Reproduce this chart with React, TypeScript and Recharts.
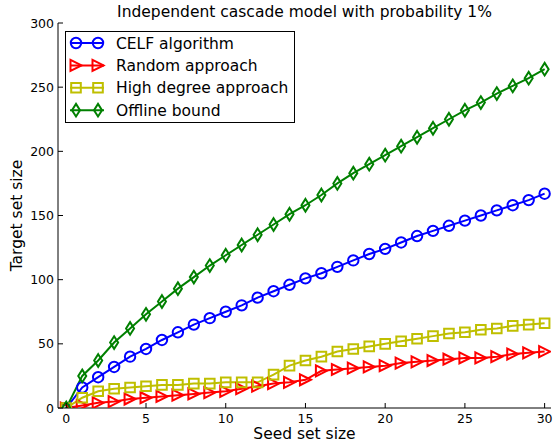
import React from "react";
import { LineChart, Line, XAxis, YAxis, Legend } from "recharts";

const seedSizes = [0, 1, 2, 3, 4, 5, 6, 7, 8, 9, 10, 11, 12, 13, 14, 15, 16, 17, 18, 19, 20, 21, 22, 23, 24, 25, 26, 27, 28, 29, 30];
const celf = [0, 16, 24, 32, 40, 46, 53, 59, 65, 70, 75, 80, 86, 91, 96, 101, 105, 110, 115, 120, 124, 129, 134, 138, 142, 146, 150, 154, 158, 162, 167];
const randomApproach = [0, 2, 4, 5, 7, 8, 9, 10, 11, 12, 13, 15, 17, 19, 20, 22, 29, 30, 31, 32, 33, 35, 36, 37, 38, 39, 39, 40, 42, 43, 44];
const highDegree = [0, 8, 13, 15, 16, 17, 18, 18, 19, 19, 20, 20, 20, 26, 33, 37, 40, 44, 46, 48, 50, 52, 54, 56, 58, 59, 61, 62, 64, 65, 66];
const offline = [0, 25, 37, 51, 62, 73, 83, 93, 102, 111, 119, 127, 135, 143, 151, 158, 166, 175, 183, 190, 197, 204, 211, 218, 225, 232, 238, 245, 251, 257, 264];
const xTicks = [0, 5, 10, 15, 20, 25, 30];
const yTicks = [0, 50, 100, 150, 200, 250, 300];

const series = [
  { key: "celf", name: "CELF algorithm", color: "#0000ff", shape: "circle" },
  { key: "random", name: "Random approach", color: "#ff0000", shape: "triangle" },
  { key: "high", name: "High degree approach", color: "#bfbf00", shape: "square" },
  { key: "offline", name: "Offline bound", color: "#008000", shape: "diamond" },
];

const data = seedSizes.map((x, i) => ({
  x,
  celf: celf[i],
  random: randomApproach[i],
  high: highDegree[i],
  offline: offline[i],
}));

const FONT = "DejaVu Sans, sans-serif";

function markerPath(shape: string, cx: number, cy: number) {
  switch (shape) {
    case "triangle":
      return `M${cx + 5.5},${cy} L${cx - 5.5},${cy - 5.5} L${cx - 5.5},${cy + 5.5} Z`;
    case "square":
      return `M${cx - 4.8},${cy - 4.8} L${cx + 4.8},${cy - 4.8} L${cx + 4.8},${cy + 4.8} L${cx - 4.8},${cy + 4.8} Z`;
    case "diamond":
      return `M${cx},${cy - 6.3} L${cx + 4},${cy} L${cx},${cy + 6.3} L${cx - 4},${cy} Z`;
    default:
      return "";
  }
}

function Marker({ shape, cx, cy, color }: { shape: string; cx: number; cy: number; color: string }) {
  if (shape === "circle") {
    return <circle cx={cx} cy={cy} r={5.2} fill="none" stroke={color} strokeWidth={2} />;
  }
  return <path d={markerPath(shape, cx, cy)} fill="none" stroke={color} strokeWidth={2} strokeLinejoin="miter" />;
}

const makeDot = (shape: string, color: string) => (props: any) => {
  const { cx, cy, index } = props;
  if (cx == null || cy == null) return <g key={`d-${index}`} />;
  return (
    <g key={`d-${shape}-${index}`}>
      <Marker shape={shape} cx={cx} cy={cy} color={color} />
    </g>
  );
};

const BottomTick = (props: any) => {
  const { x, y, payload } = props;
  return (
    <g>
      <line x1={x} x2={x} y1={y} y2={y - 5} stroke="#000" strokeWidth={1} />
      <text x={x} y={y + 14.5} textAnchor="middle" fontSize={12.5} fontFamily={FONT} fill="#000">
        {payload.value}
      </text>
    </g>
  );
};

const TopTick = (props: any) => {
  const { x, y } = props;
  return <line x1={x} x2={x} y1={y} y2={y + 5} stroke="#000" strokeWidth={1} />;
};

const LeftTick = (props: any) => {
  const { x, y, payload } = props;
  return (
    <g>
      <line x1={x} x2={x + 5} y1={y} y2={y} stroke="#000" strokeWidth={1} />
      <text x={x - 4} y={y + 4.5} textAnchor="end" fontSize={12.5} fontFamily={FONT} fill="#000">
        {payload.value}
      </text>
    </g>
  );
};

const RightTick = (props: any) => {
  const { x, y } = props;
  return <line x1={x} x2={x - 5} y1={y} y2={y} stroke="#000" strokeWidth={1} />;
};

const LegendBox = () => (
  <svg width={230} height={92} style={{ display: "block" }}>
    <rect x={0.5} y={0.5} width={229} height={91} fill="#fff" stroke="#000" strokeWidth={1} />
    {series.map((s, i) => {
      const cy = 12 + i * 22.4;
      return (
        <g key={s.key}>
          <line x1={5} x2={39} y1={cy} y2={cy} stroke={s.color} strokeWidth={2} />
          <Marker shape={s.shape} cx={11} cy={cy} color={s.color} />
          <Marker shape={s.shape} cx={33} cy={cy} color={s.color} />
          <text x={51} y={cy + 5.6} fontSize={15.5} fontFamily={FONT} fill="#000">
            {s.name}
          </text>
        </g>
      );
    })}
  </svg>
);

export default function App() {
  return (
    <div style={{ position: "absolute", left: 0, top: 0, width: 553, height: 447, background: "#fff" }}>
      <div
        style={{
          position: "absolute",
          left: 58,
          width: 493,
          top: 2,
          textAlign: "center",
          fontFamily: FONT,
          fontSize: 15.5,
          lineHeight: "20px",
          color: "#000",
          whiteSpace: "nowrap",
        }}
      >
        Independent cascade model with probability 1%
      </div>
      <LineChart width={553} height={447} data={data} margin={{ top: 23, right: 2, left: 0, bottom: 0 }}>
        <XAxis
          dataKey="x"
          type="number"
          domain={[-0.52, 30.4]}
          ticks={xTicks}
          interval={0}
          allowDataOverflow
          height={39}
          tickSize={0}
          tickMargin={0}
          tickLine={false}
          axisLine={{ stroke: "#000", strokeWidth: 1 }}
          tick={BottomTick}
          label={(p: any) => {
            const vb = p.viewBox || { x: 58, y: 408, width: 493 };
            return (
              <text x={vb.x + vb.width / 2} y={439} textAnchor="middle" fontSize={15.5} fontFamily={FONT} fill="#000">
                Seed set size
              </text>
            );
          }}
        />
        <XAxis
          xAxisId="top"
          orientation="top"
          dataKey="x"
          type="number"
          domain={[-0.52, 30.4]}
          ticks={xTicks}
          interval={0}
          allowDataOverflow
          height={0}
          tickSize={0}
          tickMargin={0}
          tickLine={false}
          axisLine={{ stroke: "#000", strokeWidth: 1 }}
          tick={TopTick}
        />
        <YAxis
          type="number"
          domain={[0, 300]}
          ticks={yTicks}
          interval={0}
          allowDataOverflow
          width={58}
          tickSize={0}
          tickMargin={0}
          tickLine={false}
          axisLine={{ stroke: "#000", strokeWidth: 1 }}
          tick={LeftTick}
          label={(p: any) => {
            const cy = 215.5;
            return (
              <text
                x={22}
                y={cy}
                transform={`rotate(-90, 22, ${cy})`}
                textAnchor="middle"
                fontSize={15.5}
                fontFamily={FONT}
                fill="#000"
              >
                Target set size
              </text>
            );
          }}
        />
        <YAxis
          yAxisId="right"
          orientation="right"
          type="number"
          domain={[0, 300]}
          ticks={yTicks}
          interval={0}
          allowDataOverflow
          width={0}
          tickSize={0}
          tickMargin={0}
          tickLine={false}
          axisLine={{ stroke: "#000", strokeWidth: 1 }}
          tick={RightTick}
        />
        {series.map((s) => (
          <Line
            key={s.key}
            dataKey={s.key}
            name={s.name}
            type="linear"
            stroke={s.color}
            strokeWidth={2}
            dot={makeDot(s.shape, s.color)}
            activeDot={false}
            isAnimationActive={false}
          />
        ))}
        <Legend
          layout="vertical"
          align="center"
          verticalAlign="middle"
          wrapperStyle={{ left: 65, top: 31, width: 230, height: 92 }}
          content={() => <LegendBox />}
        />
      </LineChart>
    </div>
  );
}
